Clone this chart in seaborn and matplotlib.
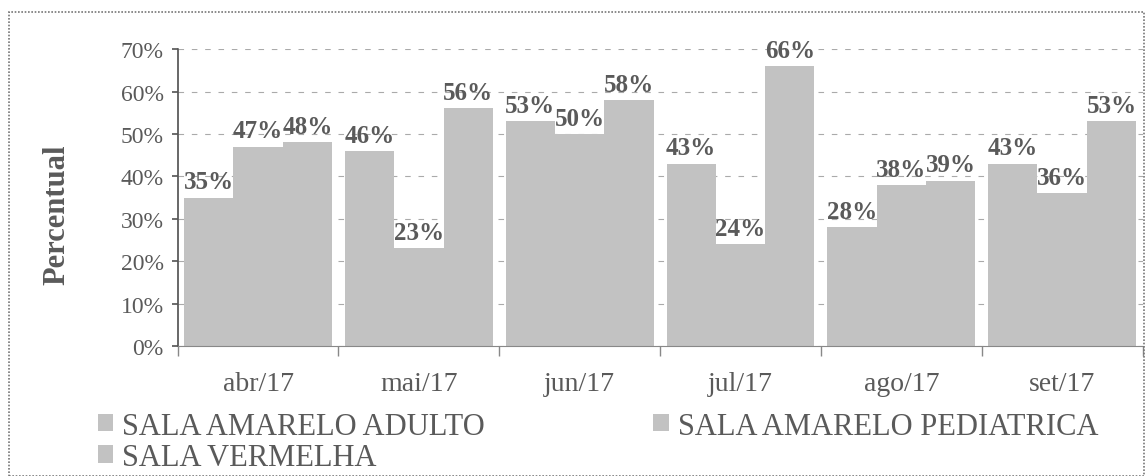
import pandas as pd
import numpy as np
import matplotlib.pyplot as plt
import seaborn as sns
from matplotlib.patches import Rectangle
from matplotlib.ticker import PercentFormatter, FixedLocator

sns.set_theme(style="white")
plt.rcParams['font.family'] = ['Liberation Serif', 'DejaVu Serif']

# data
months = ["abr/17", "mai/17", "jun/17", "jul/17", "ago/17", "set/17"]
rooms = ["SALA AMARELO ADULTO", "SALA AMARELO PEDIATRICA", "SALA VERMELHA"]
adulto = [35, 46, 53, 43, 28, 43]
pediatrica = [47, 23, 50, 24, 38, 36]
vermelha = [48, 56, 58, 66, 39, 53]

df = pd.DataFrame({
    "Mes": months * 3,
    "Sala": [rooms[0]] * 6 + [rooms[1]] * 6 + [rooms[2]] * 6,
    "Valor": adulto + pediatrica + vermelha,
})

bar_color = "#c2c2c2"
text_color = "#5a5a5a"

fig = plt.figure(figsize=(11.46, 4.77), dpi=100)
ax = fig.add_axes([0.155, 0.2725, 0.842, 0.6225])

sns.barplot(data=df, x="Mes", y="Valor", hue="Sala", order=months, hue_order=rooms,
            palette=[bar_color] * 3, width=0.92, gap=0, saturation=1,
            edgecolor="none", ax=ax, legend=True)

for cont in ax.containers:
    ax.bar_label(cont, labels=[f"{v:.0f}%" for v in cont.datavalues], padding=3,
                 fontsize=18, fontweight="bold", color=text_color)

ax.set_ylim(0, 70)
ax.set_xlim(-0.5, len(months) - 0.5)
ax.yaxis.set_major_formatter(PercentFormatter(decimals=0))
ax.set_yticks(np.arange(0, 71, 10))
ax.yaxis.grid(True, linestyle=(0, (5, 7)), color="#aaaaaa", linewidth=0.8)
ax.set_axisbelow(True)

ax.tick_params(axis="y", labelsize=17, colors=text_color, length=4, left=True, pad=6)
ax.tick_params(axis="x", labelsize=20, colors=text_color, length=0, pad=18)
ax.xaxis.set_minor_locator(FixedLocator(np.arange(-0.5, len(months), 1)))
ax.tick_params(axis="x", which="minor", length=7, bottom=True, color="#888888")

for s in ["top", "right"]:
    ax.spines[s].set_visible(False)
ax.spines["left"].set_linestyle((0, (1, 1)))
ax.spines["left"].set_color("#555555")
ax.spines["bottom"].set_color("#888888")
ax.spines["bottom"].set_linewidth(0.8)

ax.set_xlabel("")
ax.set_ylabel("Percentual", fontsize=22, fontweight="bold", color=text_color)
ax.yaxis.set_label_coords(-0.110, 0.444)

handles, labels = ax.get_legend_handles_labels()
ax.get_legend().remove()
# matplotlib fills legend columns first, so reorder to get row-wise layout
order = [0, 2, 1]
fig.legend([handles[i] for i in order], [labels[i] for i in order], ncol=2,
           loc="upper left", bbox_to_anchor=(0.0855, 0.135),
           frameon=False, fontsize=22, handlelength=0.5, handleheight=0.5,
           handletextpad=0.3, columnspacing=5.5, labelspacing=0.08,
           labelcolor=text_color, borderaxespad=0, borderpad=0)

# dotted frame of the scanned figure
fig.patches.append(Rectangle((0.008, 0.0), 0.99, 0.972, transform=fig.transFigure,
                             fill=False, edgecolor="#777777", linestyle=(0, (1, 1)),
                             linewidth=1.2))

fig.savefig("out.png", dpi=100)
